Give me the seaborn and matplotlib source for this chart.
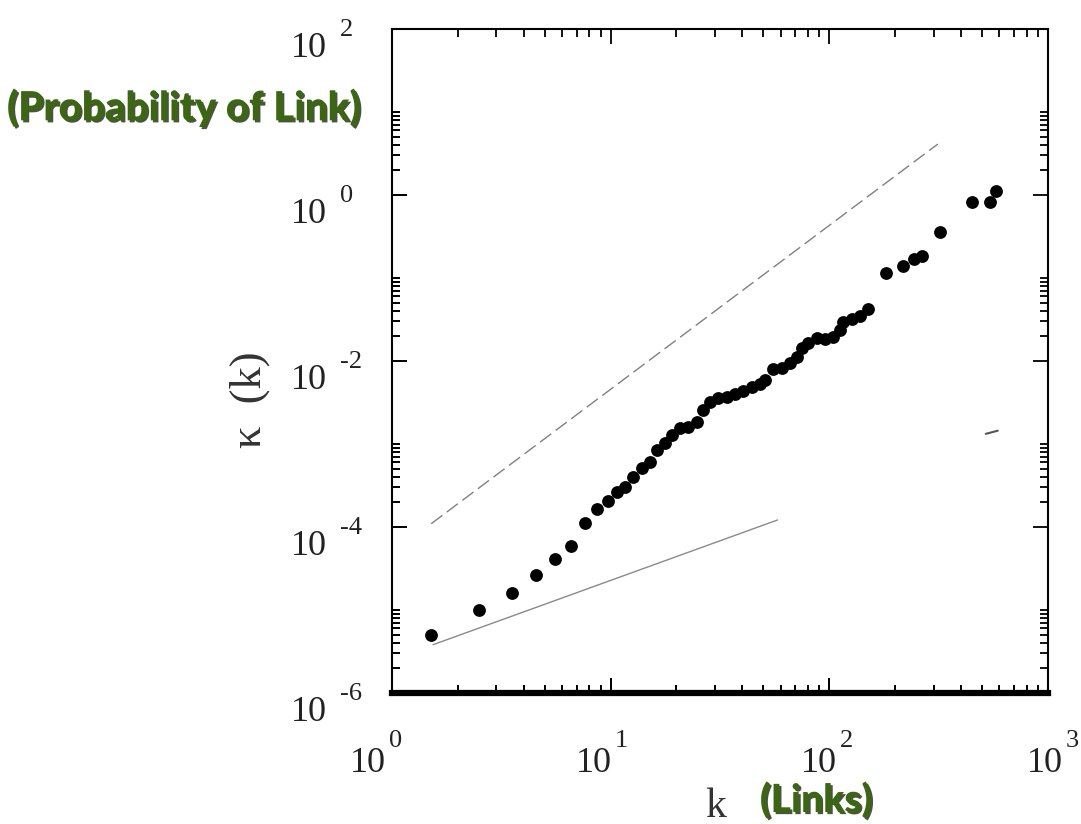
import numpy as np
import matplotlib
matplotlib.use("Agg")
import matplotlib.pyplot as plt
import matplotlib.ticker as mticker
import matplotlib.transforms as mtrans
import matplotlib.patheffects as pe
import seaborn as sns

# data
k = [1.51, 2.50, 3.54, 4.55, 5.56, 6.58, 7.63, 8.66, 9.68, 10.7, 11.6, 12.6, 13.9,
     15.1, 16.3, 17.7, 19.1, 20.7, 22.6, 24.8, 26.4, 28.4, 31.0, 34.0, 37.0, 40.3,
     44.3, 48.2, 50.8, 55.2, 60.7, 66.0, 71.1, 75.0, 79.8, 87.7, 95.5, 103.8, 111.7,
     115.4, 126.8, 138, 150, 182, 218, 243, 267, 320, 449, 543, 578]
kappa = [5.0e-6, 1.0e-5, 1.6e-5, 2.64e-5, 4.1e-5, 5.9e-5, 1.12e-4, 1.65e-4, 2.07e-4,
         2.64e-4, 3.03e-4, 4.0e-4, 5.1e-4, 6.1e-4, 8.5e-4, 1.03e-3, 1.28e-3, 1.56e-3,
         1.6e-3, 1.84e-3, 2.57e-3, 3.2e-3, 3.58e-3, 3.68e-3, 4.0e-3, 4.35e-3, 4.86e-3,
         5.28e-3, 5.9e-3, 8.0e-3, 8.2e-3, 9.5e-3, 1.12e-2, 1.44e-2, 1.65e-2, 1.89e-2,
         1.84e-2, 1.95e-2, 2.36e-2, 2.95e-2, 3.2e-2, 3.48e-2, 4.24e-2, 0.115, 0.141,
         0.17, 0.182, 0.358, 0.82, 0.82, 1.12]

# guide lines (end points)
upper_k = [1.51, 314]
upper_kappa = [1.09e-4, 4.1]
lower_k = [1.54, 58]
lower_kappa = [3.8e-6, 1.21e-4]
mark_k = [520, 590]
mark_kappa = [1.32e-3, 1.44e-3]

x_ticks = [1, 10, 100, 1000]
x_exps = ['0', '1', '2', '3']
y_ticks = [1e-6, 1e-4, 1e-2, 1, 1e2]
y_exps = ['-6', '-4', '-2', '0', '2']
y_minor = [m * 10.0**e for e in (-6, -4, -2, 0) for m in range(2, 11)]

sns.set_style("ticks")
plt.rcParams['font.family'] = ['Liberation Serif', 'DejaVu Serif']
plt.rcParams.update({'axes.edgecolor': 'black', 'axes.linewidth': 1.5,
                     'xtick.color': 'black', 'ytick.color': 'black'})


def set_log_ticks(a):
    a.set(xscale='log', yscale='log', xlim=(1, 1000), ylim=(1e-6, 1e2))
    a.xaxis.set_major_locator(mticker.FixedLocator(x_ticks))
    a.xaxis.set_minor_locator(mticker.LogLocator(base=10, subs=np.arange(2, 10)))
    a.xaxis.set_minor_formatter(mticker.NullFormatter())
    a.yaxis.set_major_locator(mticker.FixedLocator(y_ticks))
    a.yaxis.set_minor_locator(mticker.FixedLocator(y_minor))
    a.yaxis.set_minor_formatter(mticker.NullFormatter())
    a.tick_params(which='major', length=11, width=1.3)
    a.tick_params(which='minor', length=6, width=1.3)


rect = [0.3627, 0.1592, 0.6066, 0.8057]
fig = plt.figure(figsize=(10.81, 8.24), dpi=100)
ax = fig.add_axes(rect)

sns.scatterplot(x=k, y=kappa, ax=ax, color='black', s=85, linewidth=0, zorder=3)
sns.lineplot(x=upper_k, y=upper_kappa, ax=ax, color='#808080', lw=1.0,
             linestyle=(0, (10, 4)))
sns.lineplot(x=lower_k, y=lower_kappa, ax=ax, color='#8a8a8a', lw=1.0)
sns.lineplot(x=mark_k, y=mark_kappa, ax=ax, color='#555555', lw=1.5)

set_log_ticks(ax)
# tick labels: "10" on the ticks, exponents added beside them
ax.xaxis.set_major_formatter(mticker.FixedFormatter(['10'] * len(x_ticks)))
ax.yaxis.set_major_formatter(mticker.FixedFormatter(['10'] * len(y_ticks)))
ax.tick_params(which='both', direction='in', top=True, right=True,
               bottom=True, left=True, color='black')
ax.tick_params(axis='x', which='major', labelsize=26, pad=57, labelcolor='#222222')
ax.tick_params(axis='y', which='major', labelsize=26, pad=47, labelcolor='#222222')

# helper strips whose outward top/right ticks give the inward bottom/left ticks
ax_b = fig.add_axes([rect[0], rect[1] - 0.03, rect[2], 0.03])
ax_l = fig.add_axes([rect[0] - 0.03, rect[1], 0.03, rect[3]])
for a in (ax_b, ax_l):
    set_log_ticks(a)
    a.patch.set_visible(False)
    for s in a.spines.values():
        s.set_visible(False)
    a.set_zorder(5)
ax_b.tick_params(which='both', direction='out', top=True, bottom=False, left=False,
                 right=False, labelbottom=False, labeltop=False, labelleft=False,
                 labelright=False, color='black')
ax_b.yaxis.set_major_locator(mticker.NullLocator())
ax_b.yaxis.set_minor_locator(mticker.NullLocator())
ax_l.tick_params(which='both', direction='out', right=True, left=False, top=False,
                 bottom=False, labelbottom=False, labeltop=False, labelleft=False,
                 labelright=False, color='black')
ax_l.xaxis.set_major_locator(mticker.NullLocator())
ax_l.xaxis.set_minor_locator(mticker.NullLocator())

for lab in ax.get_yticklabels():
    lab.set_verticalalignment('baseline')
    lab.set_transform(lab.get_transform() +
                      mtrans.ScaledTranslation(0, -28/100, fig.dpi_scale_trans))
# x labels sit a little left of their ticks, less so to the right
x_shift = [-24 + 7 * i for i in range(len(x_ticks))]
for lab, dx in zip(ax.get_xticklabels(), x_shift):
    lab.set_verticalalignment('baseline')
    lab.set_transform(lab.get_transform() +
                      mtrans.ScaledTranslation(dx/100, 0, fig.dpi_scale_trans))

for v, e, dx in zip(x_ticks, x_exps, x_shift):
    ax.annotate(e, xy=(v, 0), xycoords=('data', 'axes fraction'), xytext=(dx + 21, -54),
                textcoords='offset pixels', ha='left', va='baseline', fontsize=19,
                color='#222222', annotation_clip=False)
for v, e in zip(y_ticks, y_exps):
    ax.annotate(e, xy=(0, v), xycoords=('axes fraction', 'data'), xytext=(-52, -7),
                textcoords='offset pixels', ha='left', va='baseline', fontsize=19,
                color='#222222', annotation_clip=False)

ax.spines['bottom'].set_linewidth(4.5)

ax.set_xlabel('k', fontsize=30, color='#333333')
ax.xaxis.set_label_coords(0.494, -0.142)
ax.set_ylabel(u'\u03ba  (k)', fontsize=32, color='#333333')
ax.yaxis.set_label_coords(-0.186, 0.442)

green = '#3b6612'
shadow = [pe.withSimplePatchShadow(offset=(1.5, -1.5), shadow_rgbFace='#1c2c08', alpha=0.8)]
fig.text(183/1081, 1 - 108/824, '(Probability of Link)', fontsize=29, fontweight='black',
         family='Lato', color=green, ha='center', va='center', path_effects=shadow)
fig.text(816/1081, 1 - 800/824, '(Links)', fontsize=28, fontweight='black',
         family='Lato', color=green, ha='center', va='center', path_effects=shadow)

fig.savefig('out.png', dpi=100)
